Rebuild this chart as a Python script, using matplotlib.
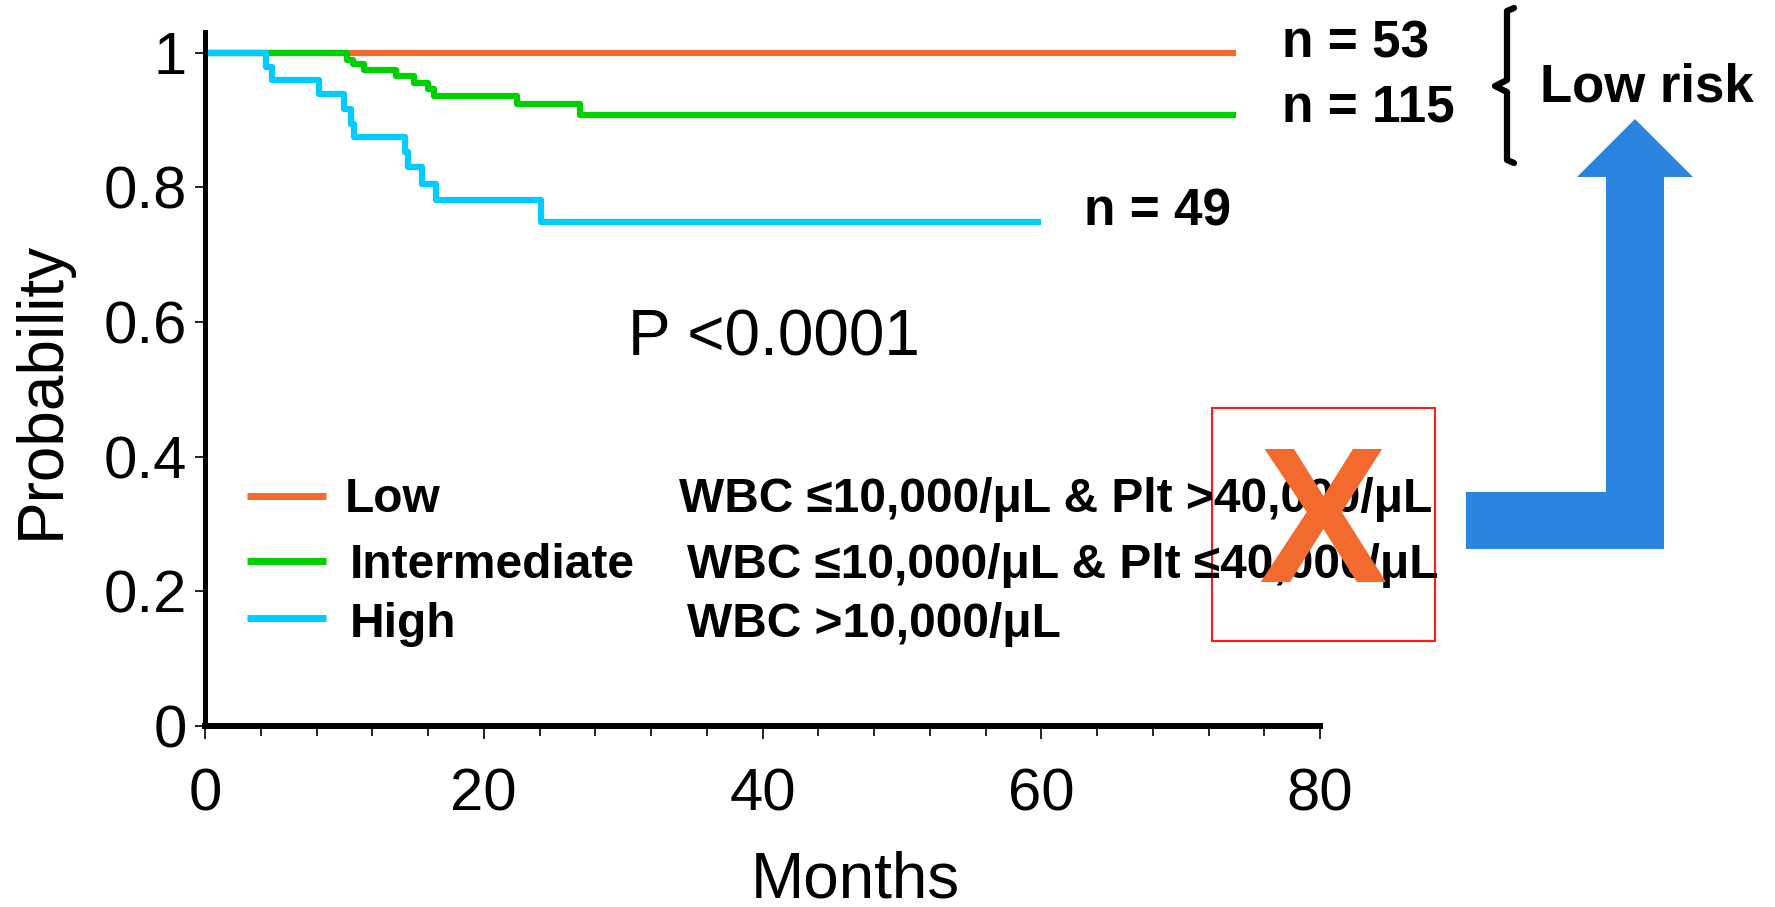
import matplotlib
matplotlib.use("Agg")
import matplotlib.pyplot as plt
from matplotlib.lines import Line2D
from matplotlib.patches import Rectangle, Polygon

plt.rcParams['font.family'] = ['Liberation Sans', 'DejaVu Sans']

# Kaplan-Meier steps (months, probability)
low_t = [0, 74]
low_s = [1.0, 1.0]
mid_t = [0, 10.2, 10.6, 11.4, 13.7, 15.0, 16.0, 16.45, 22.4, 26.9, 74]
mid_s = [1.0, 0.99, 0.984, 0.974, 0.965, 0.955, 0.946, 0.936, 0.924, 0.907, 0.907]
high_t = [0, 4.4, 4.8, 8.2, 10.0, 10.5, 10.7, 14.35, 14.6, 15.6, 16.6, 24.1, 60]
high_s = [1.0, 0.979, 0.960, 0.939, 0.916, 0.894, 0.875, 0.853, 0.831, 0.805, 0.781, 0.749, 0.749]

groups = ['Low', 'Intermediate', 'High']
criteria = ['WBC \u226410,000/\u03bcL & Plt >40,000/\u03bcL',
            'WBC \u226410,000/\u03bcL & Plt \u226440,000/\u03bcL',
            'WBC >10,000/\u03bcL']
n_labels = ['n = 53', 'n = 115', 'n = 49']
colors = ['#F26A2D', '#00D000', '#00CCFF']

W, H = 1775, 907
def fx(x):
    return x / W
def fy(y):
    return 1 - y / H

fig = plt.figure(figsize=(17.75, 9.07), dpi=100)
ax = fig.add_axes([fx(205), fy(726), fx(1320) - fx(205), fy(32) - fy(726)])

for t, s, c in zip([low_t, mid_t, high_t], [low_s, mid_s, high_s], colors):
    ax.step(t, s, where='post', color=c, lw=4.5, solid_capstyle='butt')

ax.set_xlim(0, 80)
ax.set_ylim(0, 1.031)
ax.spines['top'].set_visible(False)
ax.spines['right'].set_visible(False)
ax.spines['left'].set_linewidth(3.6)
ax.spines['bottom'].set_linewidth(4.3)
ax.set_xticks([0, 20, 40, 60, 80])
ax.set_xticks(range(0, 81, 4), minor=True)
ax.set_yticks([0, 0.2, 0.4, 0.6, 0.8, 1.0])
ax.set_yticklabels(['0', '0.2', '0.4', '0.6', '0.8', '1'])
ax.tick_params(axis='x', which='major', length=9, width=1.2, pad=21, labelsize=43)
ax.tick_params(axis='x', which='minor', length=7.5, width=1.2)
ax.tick_params(axis='y', length=7, width=1.2, pad=6, labelsize=43)

fig.text(fx(855), fy(897), 'Months', fontsize=46, ha='center', va='baseline')
fig.text(fx(42), fy(390), 'Probability', fontsize=46, rotation=90,
         ha='center', va='center')
fig.text(fx(628), fy(356), 'P <0.0001', fontsize=46, ha='left', va='baseline')

# legend drawn by hand
leg_y = [496, 561, 618]
lab_x = [345, 350, 350]
lab_base = [512, 578, 637]
crit_x = [679, 687, 687]
for i in range(3):
    fig.add_artist(Line2D([fx(247), fx(326)], [fy(leg_y[i])] * 2, color=colors[i],
                          lw=5, solid_capstyle='butt'))
    fig.text(fx(lab_x[i]), fy(lab_base[i]), groups[i], fontsize=34.5,
             fontweight='bold', va='baseline')
    fig.text(fx(crit_x[i]), fy(lab_base[i]), criteria[i], fontsize=34.5,
             fontweight='bold', va='baseline')

# n labels
fig.text(fx(1282), fy(57), n_labels[0], fontsize=37, fontweight='bold', va='baseline')
fig.text(fx(1282), fy(122), n_labels[1], fontsize=37, fontweight='bold', va='baseline')
fig.text(fx(1084), fy(226), n_labels[2], fontsize=37, fontweight='bold', va='baseline')

# brace + Low risk
bx = [1514, 1507, 1507, 1495, 1507, 1507, 1514]
by = [8, 11, 80, 86, 92, 160, 163]
fig.add_artist(Line2D([fx(v) for v in bx], [fy(v) for v in by], color='black',
                      lw=4.5, solid_joinstyle='round', solid_capstyle='round'))
fig.text(fx(1647), fy(101), 'Low risk', fontsize=38, fontweight='bold',
         ha='center', va='baseline')

# red box with orange X
fig.add_artist(Rectangle((fx(1212), fy(641)), fx(1435) - fx(1212), fy(408) - fy(641),
                         transform=fig.transFigure, fill=False, edgecolor='#FF1A1A', lw=1.5))
fig.text(fx(1323), fy(582), 'X', fontsize=139, fontweight='bold', color='#F26A2D',
         ha='center', va='baseline')

# blue bent arrow
arrow = [(1466, 549), (1664, 549), (1664, 177), (1693, 177), (1635, 119),
         (1577, 177), (1606, 177), (1606, 492), (1466, 492)]
fig.add_artist(Polygon([(fx(a), fy(b)) for a, b in arrow], closed=True,
                       transform=fig.transFigure, facecolor='#2A84E0', edgecolor='none'))

fig.savefig('out.png', dpi=100)
